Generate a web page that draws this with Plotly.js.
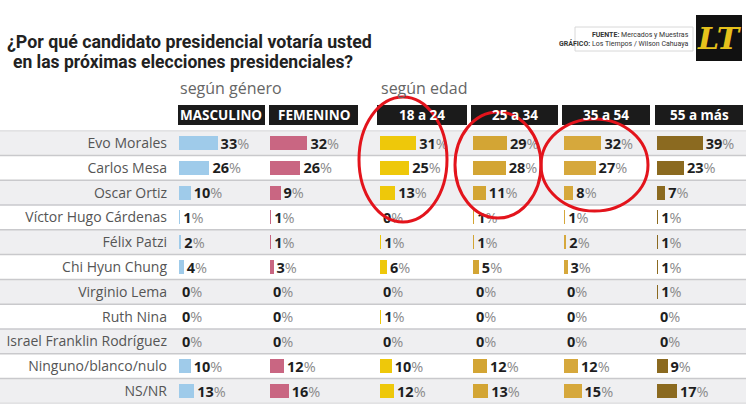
<!DOCTYPE html>
<html>
<head>
<meta charset="utf-8">
<script src="https://cdn.plot.ly/plotly-3.0.1.min.js"></script>
<style>html,body{margin:0;padding:0;background:#fff}#chart{width:746px;height:420px}</style>
</head>
<body>
<div id="chart"></div>
<script>
// ---- data ----
const candidates = ["Evo Morales","Carlos Mesa","Oscar Ortiz","Víctor Hugo Cárdenas","Félix Patzi","Chi Hyun Chung","Virginio Lema","Ruth Nina","Israel Franklin Rodríguez","Ninguno/blanco/nulo","NS/NR"];
const groups = ["MASCULINO","FEMENINO","18 a 24","25 a 34","35 a 54","55 a más"];
const masculino = [33,26,10,1,2,4,0,0,0,10,13];
const femenino  = [32,26,9,1,1,3,0,0,0,12,16];
const edad18_24 = [31,25,13,0,1,6,0,1,0,10,12];
const edad25_34 = [29,28,11,1,1,5,0,0,0,12,13];
const edad35_54 = [32,27,8,1,2,3,0,0,0,12,15];
const edad55mas = [39,23,7,1,1,1,1,0,0,9,17];
const series = [masculino, femenino, edad18_24, edad25_34, edad35_54, edad55mas];

// ---- style ----
const W = 746, H = 420;
const px = x => x / W;
const py = y => 1 - y / H;
const colors = ["#9fcbea","#c96682","#eec80a","#d3a534","#d6a83c","#8b6a20"];
const barStart = [179, 270, 380, 473, 564, 657];
const boxes = [[178,265],[269,358],[377,467],[471,558],[562,650],[655,743]];
const colW = 86, pxPer = 1.17;
const rowTop = 130.6, rowBot = 403.4;

const traces = series.map((vals, k) => ({
  type: "bar", orientation: "h",
  x: vals, y: candidates,
  xaxis: k === 0 ? "x" : "x" + (k + 1), yaxis: "y",
  marker: {color: colors[k], line: {width: 0}},
  width: 0.56,
  texttemplate: "<b>%{x}</b><span style='color:#8a8a8a'>%</span>",
  textposition: "outside", cliponaxis: false, constraintext: "none",
  textfont: {family: "Open Sans", size: 14.5, color: "#1e1e1e"},
  hoverinfo: "skip", showlegend: false
}));

const layout = {
  width: W, height: H,
  margin: {l: 0, r: 0, t: 0, b: 0},
  paper_bgcolor: "#fff", plot_bgcolor: "rgba(0,0,0,0)",
  bargap: 0, barmode: "overlay",
  yaxis: {
    type: "category", range: [candidates.length - 0.5, -0.5],
    domain: [py(rowBot), py(rowTop)], anchor: "x",
    showgrid: false, zeroline: false, showline: false, ticks: "",
    ticklabelstandoff: 11,
    tickfont: {family: "Open Sans", size: 14, color: "#555"}
  },
  shapes: [], annotations: []
};
for (let k = 0; k < 6; k++) {
  const key = k === 0 ? "xaxis" : "xaxis" + (k + 1);
  layout[key] = {
    domain: [px(barStart[k]), px(barStart[k] + colW)],
    range: [0, colW / pxPer], anchor: "y", visible: false, fixedrange: true
  };
}

// row shading and separators
for (let i = 0; i < candidates.length; i++) {
  if (i % 2 === 0) {
    layout.shapes.push({type: "rect", layer: "below", xref: "paper", yref: "y",
      x0: 0, x1: 1, y0: i - 0.5, y1: i + 0.5, fillcolor: "#efeff1", line: {width: 0}});
  }
}
for (let i = 0; i <= candidates.length; i++) {
  layout.shapes.push({type: "line", layer: "below", xref: "paper", yref: "y",
    x0: 0, x1: 1, y0: i - 0.5, y1: i - 0.5, line: {color: "#c9c9cc", width: 1.5}});
}

// headers
groups.forEach((g, k) => {
  layout.shapes.push({type: "rect", xref: "paper", yref: "paper",
    x0: px(boxes[k][0]), x1: px(boxes[k][1]), y0: py(125), y1: py(105),
    fillcolor: "#1b1b1b", line: {width: 0}});
  layout.annotations.push({xref: "paper", yref: "paper", showarrow: false,
    x: px((boxes[k][0] + boxes[k][1]) / 2), y: py(115), xanchor: "center", yanchor: "middle",
    text: "<b>" + g + "</b>", font: {family: "Open Sans", size: 13.5, color: "#fff"}});
});
layout.annotations.push({xref: "paper", yref: "paper", showarrow: false,
  x: px(178), y: py(88), xanchor: "left", yanchor: "middle",
  text: "según género", font: {family: "Open Sans", size: 16, color: "#666"}});
layout.annotations.push({xref: "paper", yref: "paper", showarrow: false,
  x: px(379), y: py(88), xanchor: "left", yanchor: "middle",
  text: "según edad", font: {family: "Open Sans", size: 16, color: "#666"}});

// title
layout.annotations.push({xref: "paper", yref: "paper", showarrow: false,
  x: px(5), y: py(42), xanchor: "left", yanchor: "middle", align: "left",
  text: "<b>¿Por qué candidato presidencial votaría usted</b>",
  font: {family: "Roboto", size: 17.8, color: "#222"}});
layout.annotations.push({xref: "paper", yref: "paper", showarrow: false,
  x: px(11), y: py(62), xanchor: "left", yanchor: "middle", align: "left",
  text: "<b>en las próximas elecciones presidenciales?</b>",
  font: {family: "Roboto", size: 17.5, color: "#222"}});

// source box and logo
layout.shapes.push({type: "rect", xref: "paper", yref: "paper",
  x0: px(575), x1: px(693), y0: py(51), y1: py(27), fillcolor: "#fff",
  line: {color: "#d8d8d8", width: 1}});
layout.annotations.push({xref: "paper", yref: "paper", showarrow: false,
  x: px(691), y: py(39), xanchor: "right", yanchor: "middle", align: "right",
  text: "<b>FUENTE:</b> Mercados y Muestras<br><b>GRÁFICO:</b> Los Tiempos / Wilson Cahuaya",
  font: {family: "Roboto", size: 7, color: "#333"}});
layout.shapes.push({type: "rect", xref: "paper", yref: "paper",
  x0: px(696), x1: px(742), y0: py(61), y1: py(15), fillcolor: "#111", line: {width: 0}});
layout.annotations.push({xref: "paper", yref: "paper", showarrow: false,
  x: px(719), y: py(38), xanchor: "center", yanchor: "middle",
  text: "<b><i>LT</i></b>", font: {family: "DejaVu Serif", size: 30, color: "#e6c21c"}});

// red hand-drawn circles
[[359,447,97,222],[455,541,112,218],[541,648,119,211]].forEach(c => {
  layout.shapes.push({type: "circle", xref: "paper", yref: "paper",
    x0: px(c[0]), x1: px(c[1]), y0: py(c[3]), y1: py(c[2]),
    line: {color: "#e3141c", width: 3}});
});

Plotly.newPlot("chart", traces, layout, {displayModeBar: false, staticPlot: true});
</script>
</body>
</html>
